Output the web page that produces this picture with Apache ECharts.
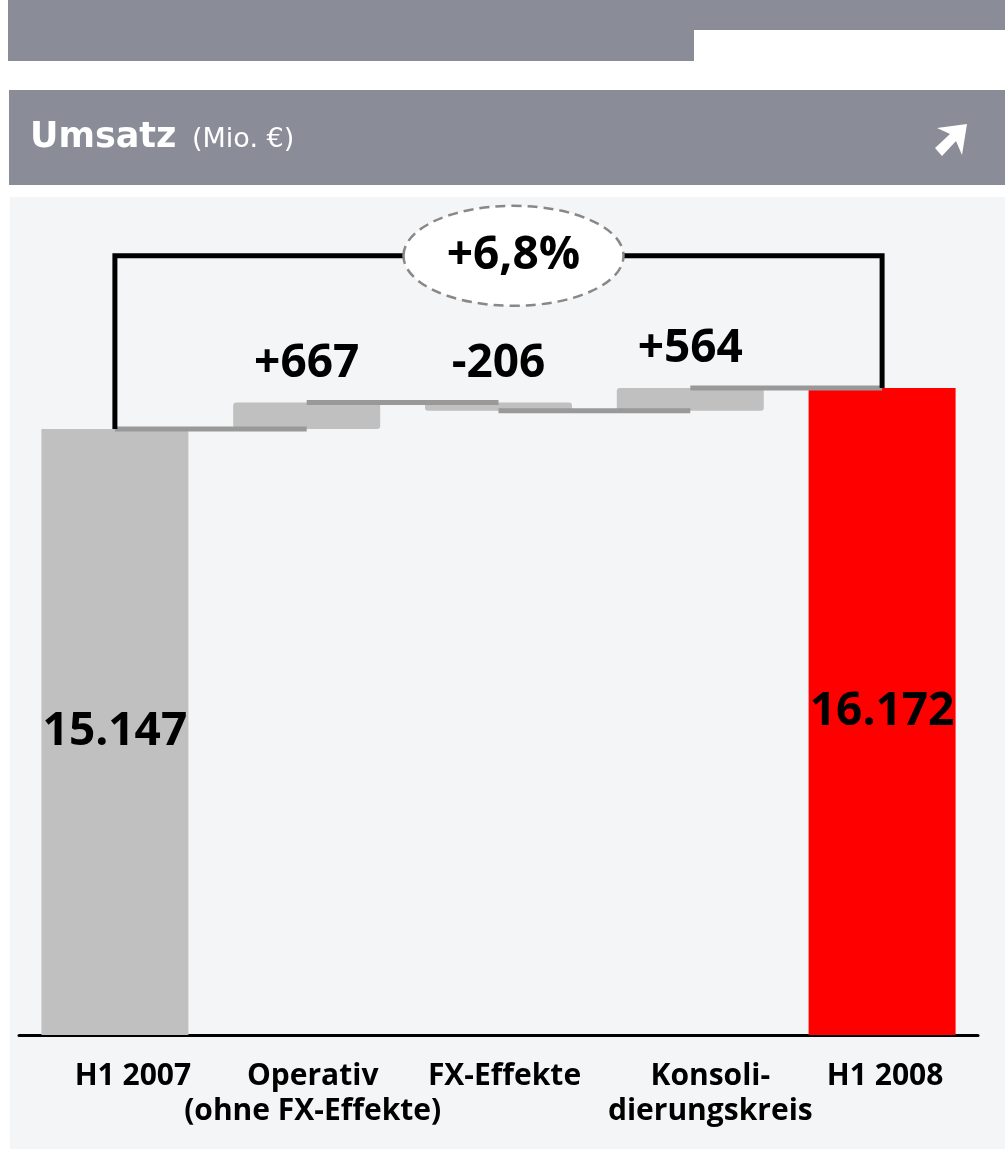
<!DOCTYPE html>
<html>
<head>
<meta charset="utf-8">
<title>Umsatz</title>
<script src="https://cdn.jsdelivr.net/npm/echarts@6/dist/echarts.min.js"></script>
<style>
  html, body { margin: 0; padding: 0; background: #fff; }
  #chart { width: 1005px; height: 1149px; }
</style>
</head>
<body>
<div id="chart"></div>
<script>
  // data
  const categories = ['H1 2007', 'Operativ\n(ohne FX-Effekte)', 'FX-Effekte', 'Konsoli-\ndierungskreis', 'H1 2008'];
  const startValue = 15147;
  const changes = [667, -206, 564];
  const endValue = 16172;
  const growthLabel = '+6,8%';

  const bracketLevel = 19480; // height of the bracket above the bars (axis units)
  const labelShift = [18, 6, 6, 20, 3]; // labels sit a bit right of the bar centres
  const numFont = '"Open Sans", sans-serif';
  const grey = '#8a8d98';

  // running level after each step: 15147, 15814, 15608, 16172
  const levels = [startValue];
  changes.forEach(function (c) { levels.push(levels[levels.length - 1] + c); });

  const baseData = [0];
  const barData = [startValue];
  changes.forEach(function (c, i) {
    baseData.push(Math.min(levels[i], levels[i + 1]));
    barData.push(Math.abs(c));
  });
  baseData.push(0);
  barData.push(endValue);

  function fmt(v) {
    return String(v).replace(/\B(?=(\d{3})+(?!\d))/g, '.');
  }
  function signed(v) {
    return (v > 0 ? '+' : '') + v;
  }

  const last = categories.length - 1;
  const barItems = barData.map(function (v, i) {
    const isTotal = i === 0 || i === last;
    return {
      value: v,
      itemStyle: {
        color: i === last ? '#ff0000' : '#c0c0c0',
        borderRadius: isTotal ? 0 : 3
      },
      label: isTotal
        ? { position: 'inside' }
        : { position: 'top', distance: 16 }
    };
  });

  const richShift = {};
  labelShift.forEach(function (s, i) {
    richShift['s' + i] = { padding: [0, 0, 0, 2 * s] };
  });

  const chart = echarts.init(document.getElementById('chart'));

  const option = {
    animation: false,
    grid: { left: 19, right: 27, top: 235, bottom: 114 },
    xAxis: {
      type: 'category',
      data: categories,
      axisLine: { lineStyle: { color: '#000', width: 3 } },
      axisTick: { show: false },
      axisLabel: {
        interval: 0,
        color: '#000',
        fontFamily: '"Open Sans", sans-serif',
        fontWeight: 'bold',
        fontSize: 30,
        lineHeight: 35,
        margin: 24,
        formatter: function (val, idx) {
          return val.split('\n').map(function (line) {
            return '{s' + idx + '|' + line + '}';
          }).join('\n');
        },
        rich: richShift
      }
    },
    yAxis: {
      type: 'value',
      min: 0,
      max: 20000,
      show: false,
      splitLine: { show: false }
    },
    graphic: {
      elements: [
        { type: 'rect', z: -10, shape: { x: 8, y: 0, width: 997, height: 30 }, style: { fill: grey } },
        { type: 'rect', z: -10, shape: { x: 8, y: 0, width: 686, height: 61 }, style: { fill: grey } },
        { type: 'rect', z: -10, shape: { x: 9, y: 90, width: 996, height: 95 }, style: { fill: grey } },
        { type: 'rect', z: -10, shape: { x: 10, y: 197, width: 995, height: 952 }, style: { fill: '#f4f5f7' } },
        {
          type: 'text', x: 30, y: 138,
          style: { text: 'Umsatz', fill: '#fff', font: 'bold 35px "DejaVu Sans", sans-serif', verticalAlign: 'middle' }
        },
        {
          type: 'text', x: 192, y: 140,
          style: { text: '(Mio. €)', fill: '#fff', font: '27px "DejaVu Sans", sans-serif', verticalAlign: 'middle' }
        },
        {
          type: 'polygon',
          shape: { points: [[937, 128], [967, 124], [962, 155], [956, 141], [942, 156], [935, 148], [950, 134]] },
          style: { fill: '#fff' }
        }
      ]
    },
    series: [
      {
        name: 'base',
        type: 'bar',
        stack: 'w',
        barWidth: 147,
        silent: true,
        itemStyle: { color: 'transparent' },
        data: baseData
      },
      {
        name: 'Umsatz',
        type: 'bar',
        stack: 'w',
        barWidth: 147,
        label: {
          show: true,
          color: '#000',
          fontFamily: numFont,
          fontWeight: 'bold',
          fontSize: 46,
          formatter: function (p) {
            if (p.dataIndex === 0 || p.dataIndex === last) return fmt(p.value);
            return signed(changes[p.dataIndex - 1]);
          }
        },
        data: barItems
      },
      {
        // connector lines between the steps
        name: 'steps',
        type: 'custom',
        z: 5,
        silent: true,
        data: levels.map(function (lv, i) { return [i, lv]; }),
        renderItem: function (params, api) {
          const i = api.value(0);
          const lv = api.value(1);
          const p1 = api.coord([i, lv]);
          const p2 = api.coord([i + 1, lv]);
          return {
            type: 'line',
            shape: { x1: p1[0], y1: p1[1], x2: p2[0], y2: p2[1] },
            style: { stroke: '#999999', lineWidth: 5 }
          };
        }
      },
      {
        // bracket with growth rate
        name: 'bracket',
        type: 'custom',
        z: 6,
        silent: true,
        data: [[0, startValue, last, endValue]],
        renderItem: function (params, api) {
          const a = api.coord([api.value(0), api.value(1)]);
          const b = api.coord([api.value(2), api.value(3)]);
          const top = api.coord([api.value(0), bracketLevel])[1];
          const cx = (a[0] + b[0]) / 2 + 15;
          return {
            type: 'group',
            children: [
              {
                type: 'polyline',
                shape: { points: [[a[0], a[1]], [a[0], top], [b[0], top], [b[0], b[1]]] },
                style: { stroke: '#000', lineWidth: 5, fill: null, lineJoin: 'miter' }
              },
              {
                type: 'ellipse',
                shape: { cx: cx, cy: top, rx: 110, ry: 50 },
                style: { fill: '#fff', stroke: '#888', lineWidth: 2.5, lineDash: [10, 6] }
              },
              {
                type: 'text',
                x: cx, y: top,
                style: {
                  text: growthLabel,
                  fill: '#000',
                  font: 'bold 46px ' + numFont,
                  align: 'center',
                  verticalAlign: 'middle'
                }
              }
            ]
          };
        }
      }
    ]
  };

  chart.setOption(option);
</script>
</body>
</html>
